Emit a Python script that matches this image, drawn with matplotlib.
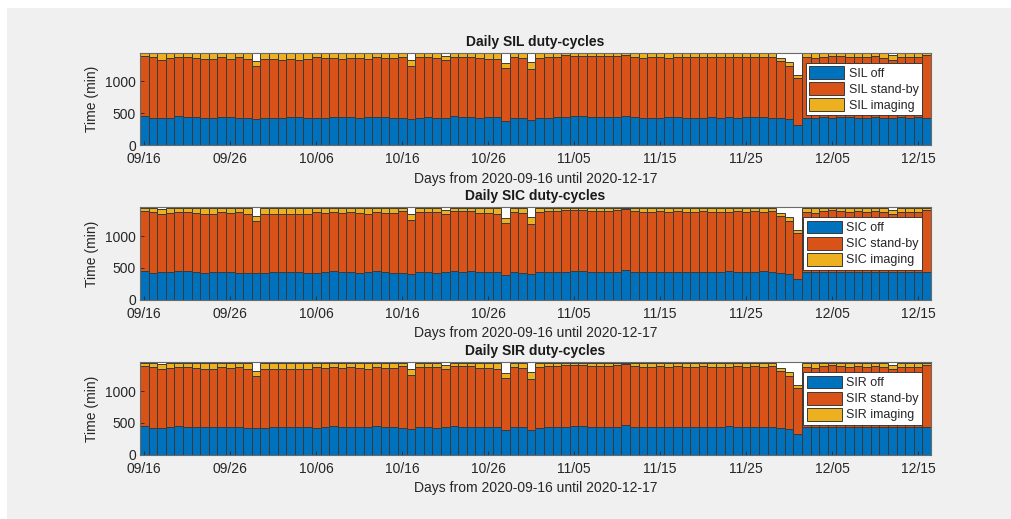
import matplotlib
matplotlib.use("Agg")
import matplotlib.pyplot as plt
from matplotlib.patches import Rectangle
import numpy as np

plt.rcParams['font.family'] = ['Liberation Sans', 'DejaVu Sans']

tick_labels = ["09/16", "09/26", "10/06", "10/16", "10/26", "11/05", "11/15", "11/25", "12/05", "12/15"]
tick_days = [0, 10, 20, 30, 40, 50, 60, 70, 80, 90]
n_days = 92

sil_off = [458, 421, 426, 431, 452, 442, 437, 426, 431, 437, 437, 426, 426, 416, 426, 431, 431, 437, 437, 426,
           426, 431, 447, 442, 437, 426, 437, 447, 437, 426, 426, 410, 432, 440, 425, 430, 455, 442, 445, 432,
           436, 438, 384, 430, 428, 395, 428, 432, 436, 441, 452, 452, 440, 438, 440, 440, 462, 438, 434, 432,
           431, 444, 441, 434, 432, 431, 444, 432, 446, 430, 441, 439, 445, 432, 421, 405, 318, 433, 430, 436,
           432, 441, 438, 433, 430, 440, 432, 430, 435, 431, 440, 431]
sil_standby = [937, 959, 914, 934, 923, 936, 925, 919, 919, 948, 918, 949, 919, 820, 924, 914, 909, 908, 905, 919,
               949, 934, 923, 913, 933, 939, 908, 928, 923, 934, 964, 837, 948, 935, 945, 911, 930, 946, 940, 930,
               922, 912, 826, 950, 937, 799, 942, 953, 954, 969, 948, 948, 955, 954, 958, 962, 958, 947, 936, 948,
               959, 926, 944, 941, 948, 954, 931, 948, 934, 960, 934, 946, 935, 958, 894, 831, 734, 947, 935, 949,
               968, 954, 942, 955, 950, 955, 938, 911, 940, 949, 940, 984]
sil_imaging = [45, 60, 100, 75, 65, 62, 78, 95, 90, 55, 85, 65, 95, 79, 90, 95, 100, 95, 98, 95,
               65, 75, 70, 85, 70, 75, 95, 65, 80, 80, 50, 94, 60, 65, 70, 63, 55, 52, 55, 78,
               82, 90, 79, 60, 75, 106, 70, 55, 50, 30, 40, 40, 45, 48, 42, 38, 20, 55, 70, 60,
               50, 70, 55, 65, 60, 55, 65, 60, 60, 50, 65, 55, 60, 50, 53, 69, 42, 60, 75, 55,
               40, 45, 60, 52, 60, 45, 70, 69, 65, 60, 60, 25]

sic_off = [455, 422, 428, 432, 450, 444, 438, 427, 430, 436, 438, 427, 425, 414, 427, 432, 430, 438, 436, 427,
           425, 432, 446, 443, 436, 427, 438, 446, 436, 427, 425, 412, 433, 441, 426, 428, 453, 443, 444, 433,
           437, 437, 386, 431, 427, 397, 429, 433, 437, 442, 450, 451, 441, 437, 441, 439, 460, 437, 435, 433,
           432, 443, 440, 435, 433, 432, 443, 433, 445, 431, 440, 438, 444, 433, 422, 407, 320, 432, 431, 437,
           433, 440, 437, 432, 431, 441, 433, 431, 436, 432, 441, 432]
sic_standby = [940, 958, 912, 935, 925, 935, 924, 920, 921, 946, 917, 948, 920, 822, 923, 915, 910, 907, 906, 918,
               950, 933, 924, 912, 934, 938, 907, 929, 924, 933, 965, 835, 947, 934, 944, 913, 932, 945, 941, 929,
               921, 913, 824, 949, 938, 797, 941, 952, 953, 968, 950, 949, 954, 955, 957, 963, 960, 948, 935, 947,
               958, 927, 945, 940, 947, 953, 932, 947, 935, 959, 935, 947, 936, 957, 893, 829, 732, 948, 934, 948,
               967, 955, 943, 956, 949, 954, 937, 910, 939, 948, 939, 983]
sic_imaging = [45, 60, 80, 73, 65, 61, 78, 93, 89, 58, 85, 65, 95, 79, 90, 93, 100, 95, 98, 95,
               65, 75, 70, 85, 70, 75, 95, 65, 80, 80, 50, 94, 60, 65, 70, 63, 55, 52, 55, 78,
               82, 90, 79, 60, 75, 106, 70, 55, 50, 30, 40, 40, 45, 48, 42, 38, 20, 55, 70, 60,
               50, 70, 55, 65, 60, 55, 65, 60, 60, 50, 65, 55, 60, 50, 53, 69, 42, 60, 75, 55,
               40, 45, 60, 52, 60, 45, 70, 69, 65, 60, 60, 25]

sir_off = [452, 423, 427, 430, 449, 443, 436, 428, 432, 435, 436, 428, 427, 415, 425, 430, 432, 436, 438, 428,
           427, 430, 445, 441, 438, 428, 436, 445, 438, 428, 427, 411, 431, 439, 427, 431, 452, 441, 443, 431,
           435, 436, 385, 432, 429, 396, 427, 431, 435, 440, 451, 450, 439, 436, 439, 441, 461, 436, 433, 431,
           430, 442, 439, 433, 431, 430, 442, 431, 444, 429, 439, 437, 443, 431, 420, 404, 319, 431, 429, 435,
           431, 439, 436, 431, 429, 439, 431, 429, 434, 430, 439, 430]
sir_standby = [943, 957, 913, 936, 926, 935, 926, 918, 918, 947, 919, 947, 918, 821, 925, 915, 908, 909, 904, 917,
               948, 935, 925, 914, 932, 937, 909, 930, 922, 932, 963, 836, 949, 936, 943, 910, 933, 947, 942, 931,
               923, 914, 825, 948, 936, 798, 943, 954, 955, 970, 949, 950, 956, 956, 959, 961, 959, 949, 937, 949,
               960, 928, 946, 942, 949, 955, 933, 949, 936, 961, 936, 948, 937, 959, 895, 832, 733, 949, 936, 950,
               969, 956, 944, 957, 951, 956, 939, 912, 941, 950, 941, 985]
sir_imaging = [45, 60, 85, 74, 65, 62, 78, 94, 90, 58, 85, 65, 95, 79, 90, 95, 100, 95, 98, 95,
               65, 75, 70, 85, 70, 75, 95, 65, 80, 80, 50, 94, 60, 65, 70, 63, 55, 52, 55, 78,
               82, 90, 79, 60, 75, 106, 70, 55, 50, 30, 40, 40, 45, 48, 42, 38, 20, 55, 70, 60,
               50, 70, 55, 65, 60, 55, 65, 60, 60, 50, 65, 55, 60, 50, 53, 69, 42, 60, 75, 55,
               40, 45, 60, 52, 60, 45, 70, 69, 65, 60, 60, 25]

instruments = ["SIL", "SIC", "SIR"]
data = {
    "SIL": (sil_off, sil_standby, sil_imaging),
    "SIC": (sic_off, sic_standby, sic_imaging),
    "SIR": (sir_off, sir_standby, sir_imaging),
}

colors = ['#0072BD', '#D95319', '#EDB120']
txt = '#262626'

W, H = 1012, 519
fig = plt.figure(figsize=(W / 100, H / 100), dpi=100, facecolor='white')
fig.patches.append(Rectangle((7 / W, 0), 1 - 7 / W, 1 - 8 / H, transform=fig.transFigure,
                             facecolor='#f0f0f0', edgecolor='none', zorder=-10))

ax_left, ax_w = 140 / W, 791 / W
tops_px = [52.7, 207.3, 362.3]
ax_h_px = 92.5

x = np.arange(n_days)
for name, top in zip(instruments, tops_px):
    ax = fig.add_axes([ax_left, 1 - (top + ax_h_px) / H, ax_w, ax_h_px / H])
    ax.set_facecolor('white')
    off, stby, img = [np.array(v, dtype=float) for v in data[name]]
    ax.bar(x, off, width=1.0, color=colors[0], edgecolor='#3a3a3a', linewidth=0.7, label=f'{name} off')
    ax.bar(x, stby, width=1.0, bottom=off, color=colors[1], edgecolor='#3a3a3a', linewidth=0.7,
           label=f'{name} stand-by')
    ax.bar(x, img, width=1.0, bottom=off + stby, color=colors[2], edgecolor='#3a3a3a', linewidth=0.7,
           label=f'{name} imaging')
    ax.set_xlim(-0.5, n_days - 0.5)
    ax.set_ylim(0, 1450)
    ax.set_yticks([0, 500, 1000])
    ax.set_xticks(tick_days)
    ax.set_xticklabels(tick_labels)
    ax.tick_params(direction='in', length=3, width=0.6, colors=txt, labelsize=10)
    ax.tick_params(axis='x', pad=5)
    ax.tick_params(axis='y', pad=3)
    for s in ax.spines.values():
        s.set_color('#6a6a6a')
        s.set_linewidth(0.8)
    ax.set_title(f'Daily {name} duty-cycles', fontsize=10, fontweight='bold', color='#1a1a1a', pad=5)
    ax.set_xlabel('Days from 2020-09-16 until 2020-12-17', fontsize=10, color=txt, labelpad=4)
    ax.set_ylabel('Time (min)', fontsize=10, color=txt, labelpad=4)
    leg = ax.legend(loc='upper right', bbox_to_anchor=(0.988, 0.89), borderaxespad=0, fontsize=9,
                    frameon=True, fancybox=False, framealpha=1, edgecolor='#262626',
                    handlelength=2.8, handleheight=1.2, handletextpad=0.35, labelspacing=0.2,
                    borderpad=0.25)
    leg.get_frame().set_linewidth(0.6)
    for t in leg.get_texts():
        t.set_color(txt)

fig.savefig('out.png', dpi=100, facecolor=fig.get_facecolor())
